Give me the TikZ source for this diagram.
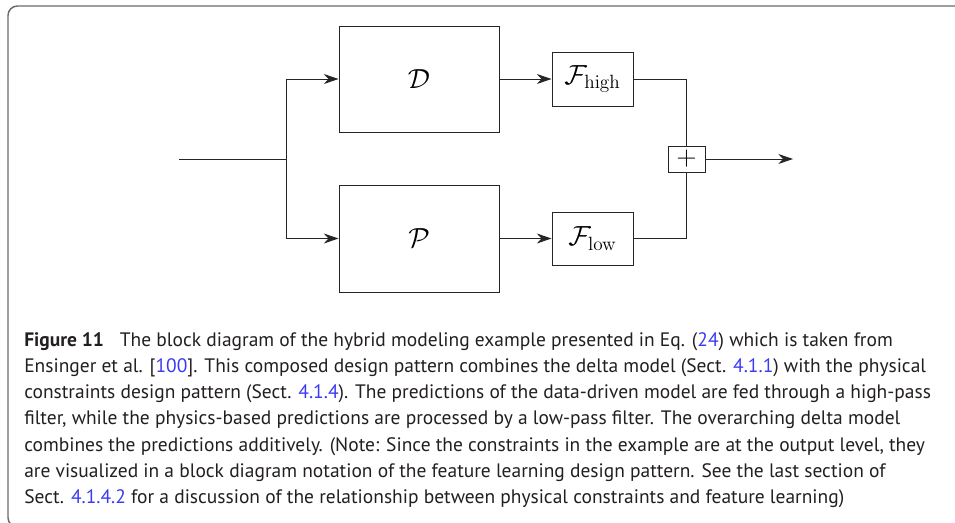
\documentclass[tikz,border=0pt]{standalone}
\usepackage[no-math]{fontspec}
\setmainfont{PT Sans}
\usetikzlibrary{arrows.meta}
\definecolor{captxt}{HTML}{231F20}
\definecolor{linkc}{HTML}{3A3AF5}
\definecolor{framec}{HTML}{6A6A6A}
\begin{document}
\begin{tikzpicture}[x=0.75pt,y=-0.75pt,
  blk/.style={draw=black!85, line width=0.75pt, inner sep=0pt, font=\fontsize{21}{25}\selectfont},
  arr/.style={-{Stealth[length=11pt,width=7.5pt,inset=3.5pt]}, line width=0.75pt, draw=black!85},
  wire/.style={line width=0.75pt, draw=black!85},
  capline/.style={anchor=base west, inner sep=0pt, text=captxt, font=\fontsize{14.6}{18}\selectfont}]
\useasboundingbox (0,0) rectangle (955,522);
\draw[framec, line width=1.1pt, rounded corners=7pt] (965,6) -- (8,6) -- (8,527) -- (965,527);
% blocks
\node[blk, minimum width=120pt, minimum height=79.5pt] (D) at (419,79) {$\mathcal{D}$};
\node[blk, minimum width=120pt, minimum height=80.25pt] (P) at (419,238.5) {$\mathcal{P}$};
\node[blk, minimum width=60.75pt, minimum height=40.5pt] (Fh) at (592.5,79) {$\mathcal{F}_{\mathrm{high}}$};
\node[blk, minimum width=60.75pt, minimum height=39.75pt] (Fl) at (592.5,238.5) {$\mathcal{F}_{\mathrm{low}}$};
\node[blk, minimum width=27.75pt, minimum height=19.5pt] (plus) at (686.5,159) {$+$};
\coordinate (in) at (179,159);
\coordinate (j) at (286,159);
\coordinate (out) at (793,159);
% connectors
\draw[wire] (in) -- (j);
\draw[arr] (j) |- (D.west);
\draw[arr] (j) |- (P.west);
\draw[arr] (D) -- (Fh);
\draw[arr] (P) -- (Fl);
\draw[wire] (Fh.east) -| (plus.north);
\draw[wire] (Fl.east) -| (plus.south);
\draw[arr] (plus) -- (out);
% caption
\node[capline] (c1) at (24,346) {\textbf{Figure 11}\hspace{0.55em} The block diagram of the hybrid modeling example presented in Eq. (\textcolor{linkc}{24}) which is taken from};
\node[capline] (c2) at (24,372.3) {Ensinger et al. [\textcolor{linkc}{100}]. This composed design pattern combines the delta model (Sect. \textcolor{linkc}{4.1.1}) with the physical};
\node[capline] (c3) at (24,398.6) {constraints design pattern (Sect. \textcolor{linkc}{4.1.4}). The predictions of the data-driven model are fed through a high-pass};
\node[capline] (c4) at (24,424.9) {filter, while the physics-based predictions are processed by a low-pass filter. The overarching delta model};
\node[capline] (c5) at (24,451.2) {combines the predictions additively. (Note: Since the constraints in the example are at the output level, they};
\node[capline] (c6) at (24,477.5) {are visualized in a block diagram notation of the feature learning design pattern. See the last section of};
\node[capline] (c7) at (24,503.8) {Sect. \textcolor{linkc}{4.1.4.2} for a discussion of the relationship between physical constraints and feature learning)};
\end{tikzpicture}
\end{document}
